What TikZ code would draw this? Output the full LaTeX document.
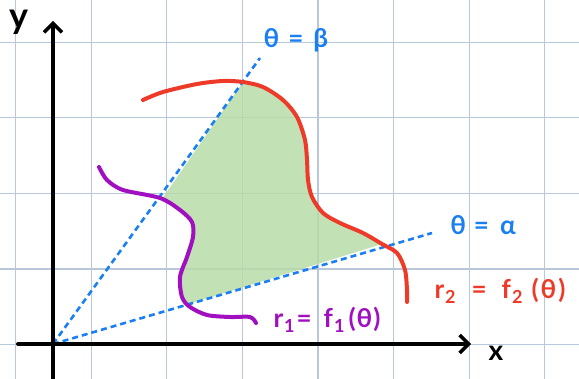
\documentclass[tikz,border=0pt]{standalone}
\usepackage{fontspec}
\setmainfont{Lato}
\usetikzlibrary{arrows.meta}
\definecolor{gridc}{HTML}{B9C7DD}
\definecolor{blu}{HTML}{1A7FF0}
\definecolor{redc}{HTML}{EE3A28}
\definecolor{purp}{HTML}{A00FC0}
\definecolor{grn}{RGB}{183,220,168}
\tikzset{
  gridline/.style={gridc, line width=1.2pt},
  axis/.style={black, line width=4pt, line cap=round, -{Straight Barb[length=9pt,width=18pt,line width=3.5pt]}},
  ray/.style={blu, line width=2.6pt, dash pattern=on 6pt off 4pt},
  curvered/.style={redc, line width=4pt, line cap=round, line join=round},
  curvepurp/.style={purp, line width=4pt, line cap=round, line join=round},
  lbl/.style={font=\fontsize{26}{28}\selectfont\bfseries, inner sep=0pt},
}
\newcommand{\lsub}[1]{\kern1pt\lower5pt\hbox{\fontsize{18}{18}\selectfont\bfseries #1}}
\begin{document}
\begin{tikzpicture}[x=1pt,y=-1pt]
\useasboundingbox (0,0) rectangle (579,379);
% grid
\foreach \gx in {15.5,91.1,166.7,242.3,317.9,393.5,469.1,544.7}
  \draw[gridline] (\gx,0) -- (\gx,379);
\foreach \gy in {42.3,117.9,193.5,269.1,344.7}
  \draw[gridline] (0,\gy) -- (579,\gy);
% green region
\fill[grn, fill opacity=0.85] (162,199) -- (243,82)
  -- plot[smooth] coordinates {(243,82) (263,87) (283,100) (297,117) (305,140) (307,160) (308,180) (312,197) (323,213) (340,223) (363,233) (382,244)}
  -- (189,304)
  -- plot[smooth] coordinates {(189,304) (182,295) (180,277) (187,257) (193,237) (192,222) (180,210) (162,199)}
  -- cycle;
% rays
\coordinate (O) at (53,344);
\coordinate (Bend) at (260,58);
\coordinate (Aend) at (432,233);
\draw[ray] (O) -- (Bend);
\draw[ray] (O) -- (Aend);
% curves
\draw[curvered] plot[smooth] coordinates {(143,100) (163,92) (197,84) (223,81) (243,82) (263,87) (283,100) (297,117) (305,140) (307,160) (308,180) (312,197) (323,213) (340,223) (363,233) (382,244) (397,253) (405,270) (407,290) (407,302)};
\draw[curvepurp] plot[smooth] coordinates {(99,167) (107,180) (123,190) (160,198) (180,210) (192,222) (193,237) (187,257) (180,277) (182,297) (190,307) (207,315) (230,317) (250,317) (256,323)};
% axes
\coordinate (Ybot) at (53,379);
\coordinate (Ytop) at (53,21);
\coordinate (Xleft) at (18,344);
\coordinate (Xright) at (471,344);
\draw[axis] (Ybot) -- (Ytop);
\draw[axis] (Xleft) -- (Xright);
% labels
\node[lbl, black, font=\fontsize{36}{36}\selectfont\bfseries] (ylab) at (19,22) {y};
\node[lbl, black, font=\fontsize{28}{28}\selectfont\bfseries] (xlab) at (496,353) {x};
\node[lbl, blu] (beta) at (296,40) {θ\hspace{9pt}=\hspace{10pt}β};
\node[lbl, blu] (alpha) at (483,225) {θ\hspace{8pt}=\hspace{11pt}α};
\node[lbl, redc] (rtwo) at (500,291) {r\lsub{2}\hspace{16pt}=\hspace{15pt}f\lsub{2}\hspace{9pt}(\hspace{2pt}θ\hspace{2pt})};
\node[lbl, purp] (rone) at (327,320) {r\lsub{1}\hspace{2pt}=\hspace{12pt}f\lsub{1}\hspace{4pt}(\hspace{1pt}θ\hspace{1pt})};
\end{tikzpicture}
\end{document}
